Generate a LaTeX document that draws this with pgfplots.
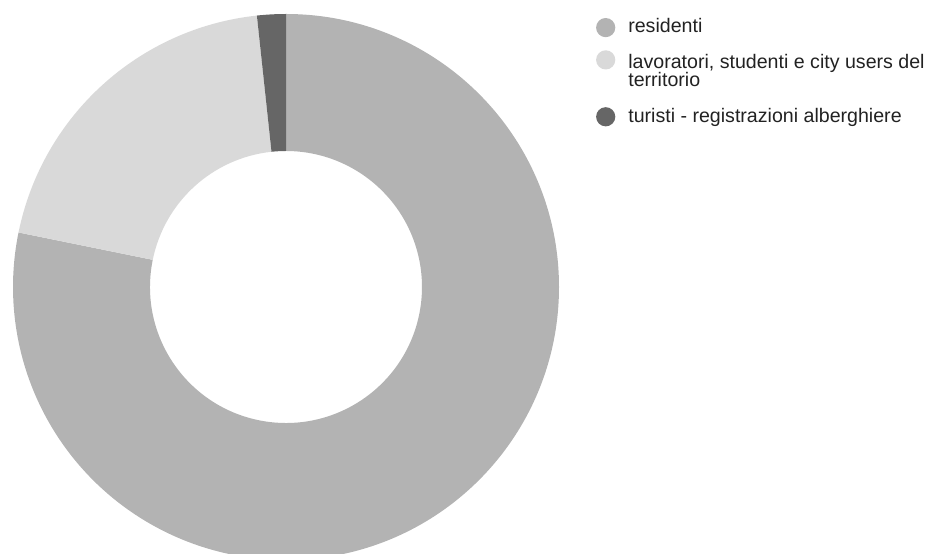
\documentclass[border=0pt]{standalone}
\usepackage{fontspec}
\setmainfont{Liberation Sans}
\usepackage{pgfplots}
\pgfplotsset{compat=1.18}
\usepackage{pgfplotstable}

\definecolor{resid}{HTML}{B3B3B3}
\definecolor{lavor}{HTML}{D9D9D9}
\definecolor{turis}{HTML}{666666}
\definecolor{legtext}{HTML}{222222}

% share of each group (percent)
\pgfplotstableread{
group value
residenti 78.2
lavoratori 20.1
turisti 1.7
}\donutdata

% ring slice: colour, start angle, end angle
\newcommand\slice[3]{%
  \fill[#1] ([shift={(#2:273pt)}]axis cs:286,267)
    arc[start angle=#2, end angle=#3, radius=273pt]
    -- ([shift={(#3:136pt)}]axis cs:286,267)
    arc[start angle=#3, end angle=#2, radius=136pt] -- cycle;}

% legend dot: colour, height above baseline
\newcommand\legdot[2]{%
  \addlegendimage{legend image code/.code={%
    \fill[#1, draw=none, overlay] (9.6pt,#2) circle[radius=9.6pt];
    \path[draw=none, fill=none] (0,0) -- (19.2pt,0);}}}

\begin{document}
\begin{tikzpicture}
\pgfplotstablegetelem{0}{value}\of\donutdata \let\vres\pgfplotsretval
\pgfplotstablegetelem{1}{value}\of\donutdata \let\vlav\pgfplotsretval
\pgfplotstablegetelem{2}{value}\of\donutdata \let\vtur\pgfplotsretval
% clockwise, starting at 12 o'clock
\pgfmathsetmacro\aA{90}
\pgfmathsetmacro\aB{\aA-3.6*\vres}
\pgfmathsetmacro\aC{\aB-3.6*\vlav}
\pgfmathsetmacro\aD{\aC-3.6*\vtur}

\begin{axis}[
    at={(0,0)}, anchor=south west,
    width=930pt, height=554pt, scale only axis,
    xmin=0, xmax=930, ymin=0, ymax=554,
    hide axis, clip=true,
    legend style={
        at={(axis cs:596.1,537.3)}, anchor=north west,
        draw=none, fill=none, inner sep=0pt, outer sep=0pt,
        font=\fontsize{19.6}{15.3}\selectfont,
        text=legtext,
        row sep=16.2pt, column sep=11pt,
        cells={anchor=base west, align=left, inner sep=0pt},
    },
]
\slice{resid}{\aA}{\aB}
\slice{lavor}{\aB}{\aC}
\slice{turis}{\aC}{\aD}

\legdot{resid}{5.3pt}
\addlegendentry{residenti\rule[-6.1pt]{0pt}{6.1pt}}
\legdot{lavor}{26.7pt}
\addlegendentry{lavoratori, studenti e city users del\\[-1.5pt]territorio}
\legdot{turis}{5.7pt}
\addlegendentry{turisti - registrazioni alberghiere}
\end{axis}
\pgfresetboundingbox
\path (0,0) rectangle (930pt,554pt);
\end{tikzpicture}
\end{document}
